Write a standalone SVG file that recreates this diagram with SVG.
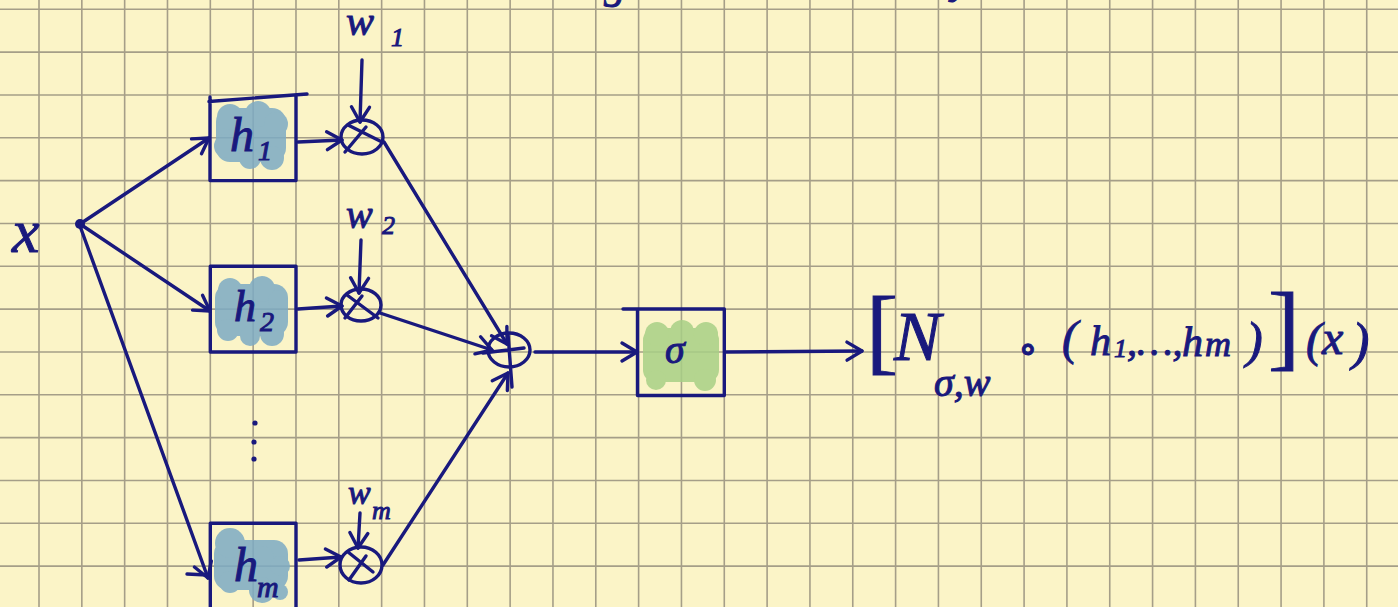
<svg xmlns="http://www.w3.org/2000/svg" width="1398" height="607" viewBox="0 0 1398 607">
  <style>
    .grid { stroke: #a59e88; stroke-width: 1.6; fill: none; }
    .ink { stroke: #19197d; stroke-width: 3.4; fill: none; stroke-linecap: round; stroke-linejoin: round; }
    .txt { font-family: "Liberation Serif", "DejaVu Serif", serif; font-style: italic; fill: #19197d; stroke: #19197d; stroke-width: 1; }
    .up { font-style: normal; }
    .blue { fill: #7dabc4; opacity: 0.85; }
    .green { fill: #a8d086; opacity: 0.85; }
  </style>
  <defs>
    <marker id="arrow" markerUnits="userSpaceOnUse" viewBox="-18 -12 20 24" markerWidth="20" markerHeight="24" refX="0" refY="0" orient="auto" overflow="visible">
      <path d="M-15,-9 L0,0 L-15,9" fill="none" stroke="#19197d" stroke-width="3.4" stroke-linecap="round" stroke-linejoin="round"/>
    </marker>
  </defs>

  <!-- paper -->
  <rect x="0" y="0" width="1398" height="607" fill="#fbf4c7"/>
  <path class="grid" d="M39 0V607M81.83 0V607M124.66 0V607M167.49 0V607M210.32 0V607M253.15 0V607M295.98 0V607M338.81 0V607M381.64 0V607M424.47 0V607M467.3 0V607M510.13 0V607M552.96 0V607M595.79 0V607M638.62 0V607M681.45 0V607M724.28 0V607M767.11 0V607M809.94 0V607M852.77 0V607M895.6 0V607M938.43 0V607M981.26 0V607M1024.09 0V607M1066.92 0V607M1109.75 0V607M1152.58 0V607M1195.41 0V607M1238.24 0V607M1281.07 0V607M1323.9 0V607M1366.73 0V607
    M0 9.3H1398M0 52.13H1398M0 94.96H1398M0 137.79H1398M0 180.62H1398M0 223.45H1398M0 266.28H1398M0 309.11H1398M0 351.94H1398M0 394.77H1398M0 437.6H1398M0 480.43H1398M0 523.26H1398M0 566.09H1398"/>

  <!-- descenders of the heading line above the sheet edge -->
  <text class="txt" x="604" y="-2" font-size="44">g</text>
  <text class="txt" x="952" y="-7" font-size="42">y</text>

  <!-- input -->
  <g id="input-x">
    <text class="txt" x="12" y="252" font-size="62">x</text>
    <circle cx="80" cy="224" r="5" fill="#19197d"/>
  </g>

  <!-- feature maps -->
  <g id="h1">
    <g class="blue">
      <rect x="216" y="108" width="70" height="54" rx="14"/>
      <circle cx="230" cy="117" r="13"/><circle cx="258" cy="114" r="13"/><circle cx="276" cy="124" r="12"/>
      <circle cx="226" cy="146" r="12"/><circle cx="250" cy="158" r="11"/><circle cx="272" cy="158" r="12"/>
    </g>
    <path class="ink" d="M210 97V180.6H296V96M209 101.5L307 94"/>
    <text class="txt" x="230" y="151" font-size="48">h</text>
    <text class="txt" x="258" y="160" font-size="28">1</text>
  </g>

  <g id="h2">
    <g class="blue">
      <rect x="215" y="284" width="73" height="52" rx="14"/>
      <circle cx="230" cy="290" r="12"/><circle cx="262" cy="289" r="13"/><circle cx="278" cy="300" r="10"/>
      <circle cx="228" cy="330" r="11"/><circle cx="250" cy="336" r="10"/><circle cx="272" cy="334" r="12"/>
    </g>
    <rect class="ink" x="210.3" y="266.3" width="85.7" height="85.7"/>
    <text class="txt" x="234" y="321" font-size="44">h</text>
    <text class="txt" x="260" y="331" font-size="28">2</text>
  </g>

  <g id="ellipsis">
    <circle cx="255" cy="423" r="2.6" fill="#19197d"/>
    <circle cx="254" cy="442" r="2.6" fill="#19197d"/>
    <circle cx="254" cy="459" r="2.6" fill="#19197d"/>
  </g>

  <g id="hm">
    <g class="blue">
      <rect x="214" y="540" width="74" height="50" rx="14"/>
      <circle cx="230" cy="543" r="15"/><circle cx="262" cy="558" r="12"/><circle cx="280" cy="566" r="10"/>
      <circle cx="230" cy="582" r="11"/><circle cx="262" cy="590" r="13"/><circle cx="280" cy="592" r="8"/>
    </g>
    <path class="ink" d="M210.3 610V523.3H296V610"/>
    <text class="txt" x="234" y="581" font-size="48">h</text>
    <text class="txt" x="257" y="597" font-size="30">m</text>
  </g>

  <!-- weights -->
  <g id="w1">
    <text class="txt" x="346" y="35" font-size="42">w</text>
    <text class="txt" x="391" y="46" font-size="26">1</text>
  </g>
  <g id="w2">
    <text class="txt" x="346" y="228" font-size="40">w</text>
    <text class="txt" x="382" y="234" font-size="26">2</text>
  </g>
  <g id="wm">
    <text class="txt" x="348" y="504" font-size="34">w</text>
    <text class="txt" x="372" y="519" font-size="26">m</text>
  </g>

  <!-- products -->
  <g id="mult1">
    <ellipse class="ink" cx="362" cy="137" rx="21" ry="17"/>
    <path class="ink" d="M348 125L382 142M366 127L345 152"/>
  </g>
  <g id="mult2">
    <ellipse class="ink" cx="361" cy="305" rx="20" ry="16"/>
    <path class="ink" d="M347 295L378 318M362 296L345 318"/>
  </g>
  <g id="multm">
    <ellipse class="ink" cx="361" cy="565" rx="21" ry="18"/>
    <path class="ink" d="M348 552L373 572M366 556L349 580"/>
  </g>

  <!-- sum -->
  <g id="sum">
    <ellipse class="ink" cx="509" cy="350" rx="21" ry="17"/>
    <path class="ink" d="M508 334L512 387M483 353L524 348"/>
  </g>

  <!-- activation -->
  <g id="sigma">
    <g class="green">
      <rect x="643" y="328" width="76" height="54" rx="12"/>
      <circle cx="657" cy="334" r="12"/><circle cx="682" cy="332" r="12"/><circle cx="706" cy="334" r="12"/>
      <circle cx="656" cy="380" r="10"/><circle cx="705" cy="380" r="11"/>
    </g>
    <path class="ink" d="M623 309H724.3V395.5H637.5V309"/>
    <text class="txt" x="665" y="363" font-size="40">σ</text>
  </g>

  <!-- result -->
  <g id="output">
    <text class="txt up" font-size="96" x="866" y="362">[</text>
    <text class="txt" font-size="70" x="894" y="360">N</text>
    <text class="txt" font-size="40" x="934" y="396">σ,w</text>
    <text class="txt" font-size="40" x="1018" y="362">∘</text>
    <text class="txt" font-size="48" x="1062" y="354">(</text>
    <text class="txt" font-size="42" x="1090" y="355">h</text>
    <text class="txt" font-size="26" x="1114" y="357">1</text>
    <text class="txt" font-size="40" x="1127" y="355">,…,</text>
    <text class="txt" font-size="42" x="1182" y="356">h</text>
    <text class="txt" font-size="36" x="1205" y="356">m</text>
    <text class="txt" font-size="50" x="1246" y="357">)</text>
    <text class="txt up" font-size="96" x="1268" y="358">]</text>
    <text class="txt" font-size="48" x="1306" y="356">(</text>
    <text class="txt" font-size="48" x="1322" y="354">x</text>
    <text class="txt" font-size="52" x="1352" y="359">)</text>
  </g>

  <!-- connectors -->
  <g id="connectors" class="ink">
    <path d="M80 224L209 138" marker-end="url(#arrow)"/>
    <path d="M80 224L210 311" marker-end="url(#arrow)"/>
    <path d="M80 226L208 578" marker-end="url(#arrow)"/>
    <path d="M187 574L207 575"/>
    <path d="M298 142L342 140" marker-end="url(#arrow)"/>
    <path d="M298 309L342 306" marker-end="url(#arrow)"/>
    <path d="M299 560L341 557" marker-end="url(#arrow)"/>
    <path d="M362 60L360 122" marker-end="url(#arrow)"/>
    <path d="M361 240L359 293" marker-end="url(#arrow)"/>
    <path d="M360 513L358 548" marker-end="url(#arrow)"/>
    <path d="M384 142L507 344" marker-end="url(#arrow)"/>
    <path d="M380 313L492 350" marker-end="url(#arrow)"/>
    <path d="M383 565L508 373" marker-end="url(#arrow)"/>
    <path d="M535 352L637 352" marker-end="url(#arrow)"/>
    <path d="M725 352L862 351" marker-end="url(#arrow)"/>
  </g>
</svg>
